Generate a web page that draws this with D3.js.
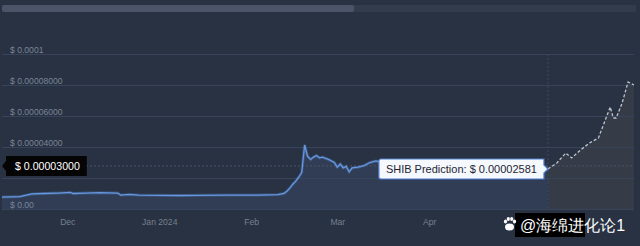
<!DOCTYPE html>
<html>
<head>
<meta charset="utf-8">
<script src="https://cdn.jsdelivr.net/npm/d3@7"></script>
<style>
  html, body { margin: 0; padding: 0; background: #283242; }
  svg { display: block; }
  text { font-family: "Liberation Sans", Arial, sans-serif; }
</style>
</head>
<body>
<svg width="640" height="246"></svg>
<script>
// SHIB price history + prediction
var historyDates = ["2023-11-09","2023-11-15","2023-11-19","2023-11-23","2023-11-28","2023-12-02","2023-12-03",
  "2023-12-07","2023-12-12","2023-12-18","2023-12-19","2023-12-22","2023-12-25","2024-01-01","2024-01-08",
  "2024-01-14","2024-01-24","2024-02-03","2024-02-10","2024-02-12","2024-02-13","2024-02-14","2024-02-15",
  "2024-02-16","2024-02-17","2024-02-18","2024-02-19","2024-02-20","2024-02-21","2024-02-22","2024-02-23",
  "2024-02-24","2024-02-25","2024-02-27","2024-02-29","2024-03-01","2024-03-02","2024-03-03","2024-03-04",
  "2024-03-05","2024-03-06","2024-03-08","2024-03-10","2024-03-12","2024-03-14","2024-03-15","2024-03-20",
  "2024-03-28","2024-04-05","2024-04-13","2024-04-22","2024-05-01","2024-05-11"];
var historyPrices = [0.77e-5,0.80e-5,0.97e-5,1.00e-5,1.03e-5,1.07e-5,1.00e-5,
  1.03e-5,1.05e-5,1.03e-5,0.90e-5,0.94e-5,0.90e-5,0.88e-5,0.87e-5,
  0.88e-5,0.90e-5,0.90e-5,0.93e-5,1.00e-5,1.15e-5,1.35e-5,1.60e-5,
  1.80e-5,2.05e-5,2.35e-5,4.13e-5,3.40e-5,3.20e-5,3.35e-5,3.45e-5,
  3.30e-5,3.35e-5,3.20e-5,3.00e-5,2.70e-5,2.90e-5,2.65e-5,2.75e-5,
  2.40e-5,2.65e-5,2.70e-5,2.80e-5,3.00e-5,3.10e-5,3.05e-5,3.00e-5,
  2.90e-5,2.60e-5,2.40e-5,2.50e-5,2.35e-5,2.581e-5];

var predictionDates = ["2024-05-11","2024-05-14","2024-05-17","2024-05-19","2024-05-22","2024-05-25","2024-05-28",
  "2024-06-01","2024-06-02","2024-06-03","2024-06-05","2024-06-07","2024-06-09"];
var predictionPrices = [2.581e-5,2.97e-5,3.61e-5,3.29e-5,3.81e-5,4.26e-5,4.58e-5,
  6.58e-5,5.87e-5,5.87e-5,6.84e-5,8.19e-5,8.00e-5];

// the 0.00002 label sits under the cursor tooltip in the screenshot, so it is left blank
var priceTicks = [0, 0.00002, 0.00004, 0.00006, 0.00008, 0.0001];
var priceTickLabels = ["$ 0.00", "", "$ 0.00004000", "$ 0.00006000", "$ 0.00008000", "$ 0.0001"];
var monthTicks = ["2023-12-01", "2024-01-01", "2024-02-01", "2024-03-01", "2024-04-01"];
var monthLabels = ["Dec", "Jan 2024", "Feb", "Mar", "Apr"];

var cursorPrice = 0.0000278;
var cursorLabel = "$ 0.00003000";
var predictionLabel = "SHIB Prediction: $ 0.00002581";

var parseDate = d3.timeParse("%Y-%m-%d");

var pastData = historyDates.map(function(d, i) { return {date: parseDate(d), price: historyPrices[i]}; });
var predData = predictionDates.map(function(d, i) { return {date: parseDate(d), price: predictionPrices[i]}; });

var svg = d3.select("svg");
var width = +svg.attr("width"),
    height = +svg.attr("height");

var plotLeft = 2, plotRight = 634, plotTop = 54, plotBottom = 209;

var x = d3.scaleTime()
    .domain([pastData[0].date, predData[predData.length - 1].date])
    .range([plotLeft, plotRight]);

var y = d3.scaleLinear()
    .domain([0, 0.0001])
    .range([plotBottom, plotTop]);

svg.append("rect")
    .attr("width", width)
    .attr("height", height)
    .attr("fill", "#283242");

// scroll bar on top
svg.append("rect")
    .attr("x", 2).attr("y", 5)
    .attr("width", 634).attr("height", 7)
    .attr("rx", 2)
    .attr("fill", "#323c4d");
svg.append("rect")
    .attr("x", 2).attr("y", 5)
    .attr("width", 352).attr("height", 7)
    .attr("rx", 2)
    .attr("fill", "#4b5468");

// areas
var area = d3.area()
    .x(function(d) { return x(d.date); })
    .y0(y(0))
    .y1(function(d) { return y(d.price); });

svg.append("path")
    .datum(pastData)
    .attr("d", area)
    .attr("fill", "#33425e")
    .attr("fill-opacity", 0.7);

svg.append("path")
    .datum(predData)
    .attr("d", area)
    .attr("fill", "#3a404a")
    .attr("fill-opacity", 0.7);

// y gridlines + labels
var yAxis = svg.append("g")
    .attr("transform", "translate(" + plotLeft + ",0)")
    .call(d3.axisRight(y)
      .tickValues(priceTicks)
      .tickSize(plotRight - plotLeft)
      .tickFormat(function(d, i) { return priceTickLabels[i]; }));

yAxis.select(".domain").remove();
yAxis.selectAll(".tick line")
    .attr("stroke", "#38445a")
    .attr("stroke-width", 1);
yAxis.selectAll(".tick text")
    .attr("x", 8)
    .attr("dy", -2)
    .attr("fill", "#7b8596")
    .attr("font-size", "8.6px")
    .attr("font-family", "'Liberation Sans', Arial, sans-serif");

// crosshair
var cx = x(predData[0].date),
    cy = y(cursorPrice);

svg.append("line")
    .attr("x1", cx).attr("x2", cx)
    .attr("y1", plotTop).attr("y2", plotBottom)
    .attr("stroke", "#3e4a5d")
    .attr("stroke-dasharray", "2,2");

svg.append("line")
    .attr("x1", plotLeft).attr("x2", plotRight)
    .attr("y1", cy).attr("y2", cy)
    .attr("stroke", "#4a5568")
    .attr("stroke-dasharray", "2,2");

// lines
var line = d3.line()
    .x(function(d) { return x(d.date); })
    .y(function(d) { return y(d.price); });

svg.append("path")
    .datum(pastData)
    .attr("d", line)
    .attr("fill", "none")
    .attr("stroke", "#5b8edb")
    .attr("stroke-opacity", 0.3)
    .attr("stroke-width", 3);

svg.append("path")
    .datum(pastData)
    .attr("d", line)
    .attr("fill", "none")
    .attr("stroke", "#6797e0")
    .attr("stroke-width", 1.3);

svg.append("path")
    .datum(predData)
    .attr("d", line)
    .attr("fill", "none")
    .attr("stroke", "#bfc5ce")
    .attr("stroke-width", 1.3)
    .attr("stroke-dasharray", "3,2");

// x axis labels
var xAxis = svg.append("g")
    .attr("transform", "translate(0," + plotBottom + ")")
    .call(d3.axisBottom(x)
      .tickValues(monthTicks.map(parseDate))
      .tickSize(0)
      .tickFormat(function(d, i) { return monthLabels[i]; }));

xAxis.select(".domain").remove();
xAxis.selectAll(".tick text")
    .attr("y", 16)
    .attr("dy", 0)
    .attr("fill", "#76808f")
    .attr("font-size", "8.6px")
    .attr("font-family", "'Liberation Sans', Arial, sans-serif");

// cursor price label (black)
var cursorTip = svg.append("g");
var ct = cursorTip.append("text")
    .attr("x", 15)
    .attr("y", cy + 4)
    .attr("fill", "#ffffff")
    .attr("font-size", "10.6px")
    .text(cursorLabel);
var cw = ct.node().getComputedTextLength();
cursorTip.insert("path", "text")
    .attr("d", "M" + plotLeft + "," + cy + "L6," + (cy - 5) + "V" + (cy - 10) + "H" + (15 + cw + 7) +
      "V" + (cy + 10) + "H6V" + (cy + 5) + "Z")
    .attr("fill", "#050505");

// prediction tooltip
var px = x(predData[0].date),
    py = y(predData[0].price);
var predTip = svg.append("g");
var pt = predTip.append("text")
    .attr("y", py + 4)
    .attr("fill", "#1d2533")
    .attr("font-size", "11px")
    .text(predictionLabel);
var pw = pt.node().getComputedTextLength();
var boxR = px - 4, boxL = boxR - pw - 14;
pt.attr("x", boxL + 7);
predTip.insert("path", "text")
    .attr("d", "M" + (boxL + 2) + "," + (py - 10) + "H" + boxR + "V" + (py - 4) + "L" + px + "," + py +
      "L" + boxR + "," + (py + 4) + "V" + (py + 10) + "H" + (boxL + 2) + "Q" + boxL + "," + (py + 10) + " " + boxL + "," + (py + 8) +
      "V" + (py - 8) + "Q" + boxL + "," + (py - 10) + " " + (boxL + 2) + "," + (py - 10) + "Z")
    .attr("fill", "#f5f8fc")
    .attr("stroke", "#4f7fcf")
    .attr("stroke-width", 1.2);

// watermark
var wm = svg.append("g");
wm.append("rect")
    .attr("x", 515).attr("y", 213)
    .attr("width", 70).attr("height", 24)
    .attr("fill", "#000000");
var paw = wm.append("g").attr("fill", "#ffffff");
paw.append("ellipse").attr("cx", 509.5).attr("cy", 227).attr("rx", 4.5).attr("ry", 3.5);
paw.append("ellipse").attr("cx", 505.5).attr("cy", 221.5).attr("rx", 1.6).attr("ry", 2);
paw.append("ellipse").attr("cx", 508.3).attr("cy", 219).attr("rx", 1.6).attr("ry", 2);
paw.append("ellipse").attr("cx", 511.7).attr("cy", 219).attr("rx", 1.6).attr("ry", 2);
paw.append("ellipse").attr("cx", 514.5).attr("cy", 221.5).attr("rx", 1.6).attr("ry", 2);
wm.append("text")
    .attr("x", 520)
    .attr("y", 231)
    .attr("fill", "#ffffff")
    .attr("font-size", "16px")
    .attr("font-family", "'Noto Sans CJK SC', sans-serif")
    .text("@海绵进化论1");
</script>
</body>
</html>
